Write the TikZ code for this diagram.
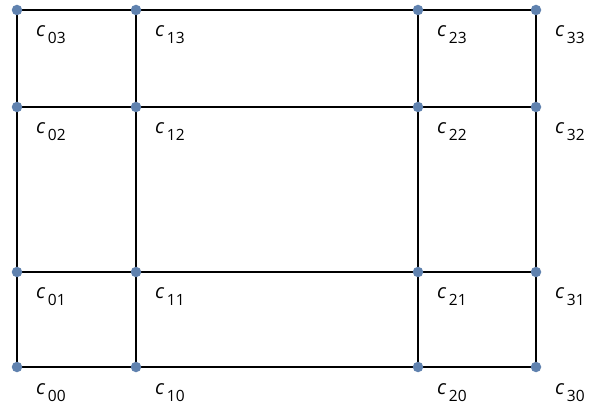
\documentclass[tikz,border=0pt]{standalone}
\usepackage{fontspec}
\setmainfont{Open Sans}
\definecolor{dotblue}{RGB}{96,130,175}
\begin{document}
\begin{tikzpicture}[x=1pt,y=1pt,
  gridline/.style={draw=black,line width=1.3pt},
  dot/.style={circle,fill=dotblue,inner sep=0pt,minimum size=10.5pt},
  lab/.style={anchor=base west,inner sep=0pt,font=\fontsize{20}{20}\selectfont}]
\useasboundingbox (0,0) rectangle (589,410);
\fill[white] (0,0) rectangle (589,410);
% columns x and rows y (image coords flipped)
\def\xa{17}\def\xb{136}\def\xc{418}\def\xd{536}
\def\ya{43}\def\yb{138}\def\yc{303}\def\yd{400}
\foreach \i/\x in {0/\xa,1/\xb,2/\xc,3/\xd}{
  \foreach \j/\y in {0/\ya,1/\yb,2/\yc,3/\yd}{
    \coordinate (p\i\j) at (\x,\y);
  }
}
\foreach \j in {0,1,2,3}{\draw[gridline] (p0\j) -- (p3\j);}
\foreach \i in {0,1,2,3}{\draw[gridline] (p\i0) -- (p\i3);}
\foreach \i in {0,1,2,3}{
  \foreach \j in {0,1,2,3}{
    \node[dot] (d\i\j) at (p\i\j) {};
    \node[lab] (l\i\j) at ([shift={(19,-27)}]p\i\j) {\textit{c}\hspace{2.5pt}\raisebox{-7pt}{\fontsize{15.5}{15.5}\selectfont\i\j}};
  }
}
\end{tikzpicture}
\end{document}
